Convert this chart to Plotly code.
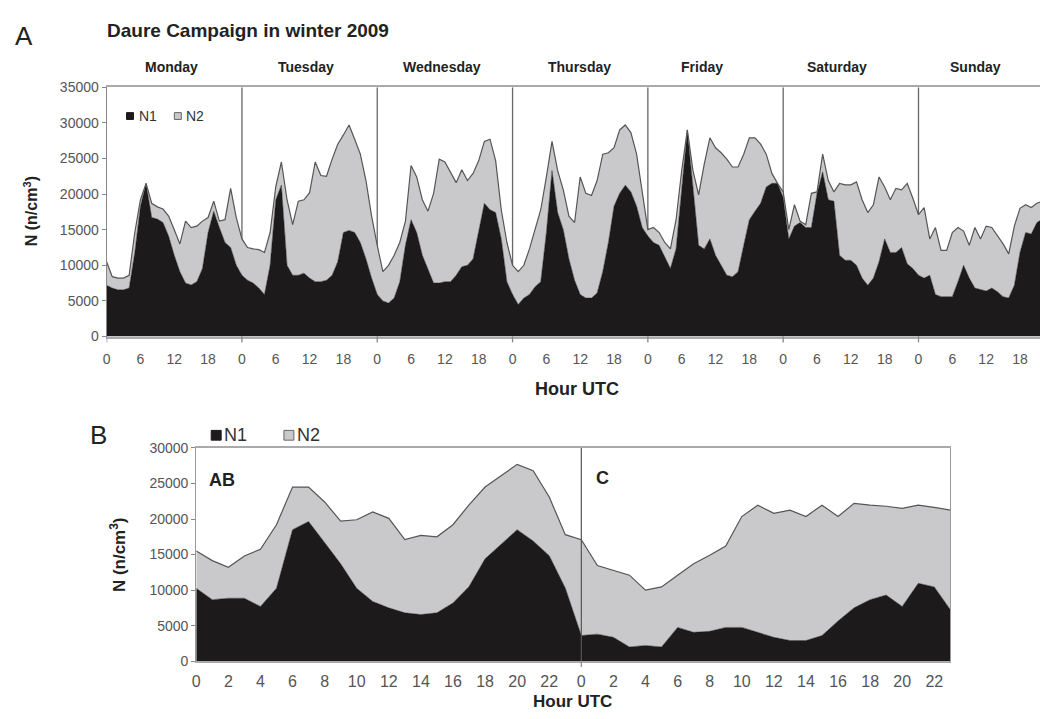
import plotly.graph_objects as go

W, H = 1040, 719


def px(x):
    return x / W


def py(y):
    return 1 - y / H


FONT = "Liberation Sans, Arial, sans-serif"
BLACK = "#1c1a1b"
GREY = "#c9c9cb"
EDGE = "#555555"

# ---- Panel A: hourly number concentrations over one week ----
days = ["Monday", "Tuesday", "Wednesday", "Thursday", "Friday", "Saturday", "Sunday"]
week_hours = list(range(168))
week_total = [
    10500, 8400, 8200, 8200, 8600, 14600, 19200, 21500, 18700, 18200, 17900, 16900,
    15000, 13000, 16200, 15300, 15500, 16200, 16700, 19000, 16200, 16400, 20800, 16700,
    13700, 12500, 12300, 12200, 11800, 14600, 21000, 24500, 19200, 15700, 19000, 19200,
    20200, 24500, 22600, 22500, 24900, 27000, 28300, 29700, 27700, 25600, 21900, 16900,
    12800, 9100, 10000, 11400, 13200, 16200, 24000, 22400, 19200, 17600, 20100, 24900,
    24500, 23100, 21600, 23400, 21900, 22900, 24700, 27400, 27700, 24700, 17800, 13200,
    10000, 9100, 10000, 12300, 15000, 17800, 22400, 27400, 23300, 20600, 16900, 16000,
    22400, 20100, 19800, 21900, 25600, 25800, 26500, 29000, 29700, 28600, 25600, 20100,
    15000, 15300, 14600, 13200, 12300, 16400, 23300, 29000, 23300, 19900, 24200, 27900,
    26500, 25800, 24900, 23800, 23800, 25600, 27900, 27900, 27000, 25600, 22900, 21500,
    20300, 15000, 18500, 16200, 15700, 20100, 20300, 25600, 21900, 20300, 21500, 21300,
    21300, 21700, 19200, 17400, 18500, 22400, 21000, 19200, 20800, 20600, 21500, 19400,
    17100, 18100, 13700, 15300, 12100, 12100, 14600, 15300, 14800, 12800, 15300, 13700,
    15500, 15300, 14100, 13000, 11600, 15500, 18000, 18500, 18100, 18700, 19000, 19000,
]
week_n1 = [
    7200, 6800, 6560, 6560, 6800, 11800, 18300, 21500, 16700, 16500, 16000, 14100,
    11400, 9100, 7500, 7250, 7700, 9550, 14600, 17600, 15300, 13200, 12500, 10000,
    8600, 7900, 7500, 6800, 5900, 10000, 19200, 21250, 10000, 8600, 8600, 8900,
    8200, 7700, 7700, 7900, 8600, 10500, 14600, 14900, 14600, 13200, 10900, 8200,
    5900, 5000, 4700, 5400, 7700, 12800, 16400, 14600, 11400, 9550, 7500, 7500,
    7700, 7700, 8600, 9800, 10000, 10900, 14600, 18700, 17800, 17400, 13700, 7700,
    5900, 4500, 5400, 5900, 7000, 7700, 14600, 23300, 17400, 15000, 10900, 7900,
    5900, 5400, 5400, 6100, 9100, 13200, 18300, 20100, 21250, 20300, 18300, 15300,
    14100, 13200, 12800, 11200, 9550, 12300, 21000, 29000, 21000, 12800, 12300, 13700,
    11400, 10000, 8600, 8400, 9100, 12800, 16400, 17600, 18700, 21000, 21500, 21500,
    19500, 13700, 15500, 16000, 15300, 15300, 20100, 23100, 19200, 19000, 11400, 10700,
    10700, 10000, 8200, 7200, 8200, 10500, 13700, 11800, 11800, 12500, 10200, 9550,
    8600, 8200, 8600, 5900, 5600, 5600, 5600, 7700, 10000, 8200, 6800, 6600,
    6400, 6800, 6300, 5600, 5400, 7200, 11800, 14600, 14400, 16000, 16500, 16500,
]
week_n2 = [t - a for t, a in zip(week_total, week_n1)]

# ---- Panel B: mean diurnal cycles for air masses AB and C ----
day_hours = list(range(24))
ab_total = [15500, 14150, 13200, 14800, 15750, 19200, 24500, 24500, 22400, 19700, 19900, 21000,
            20100, 17100, 17700, 17500, 19200, 22000, 24500, 26100, 27700, 26800, 23100, 17800]
ab_n1 = [10250, 8650, 8850, 8850, 7700, 10250, 18500, 19650, 16700, 13700, 10250, 8400,
         7500, 6800, 6550, 6800, 8200, 10500, 14400, 16450, 18500, 16900, 14850, 10300]
c_total = [17100, 13450, 12750, 12100, 10000, 10450, 12100, 13700, 14900, 16200, 20350, 21950,
           20800, 21250, 20350, 21950, 20350, 22200, 21950, 21800, 21500, 21950, 21650, 21250]
c_n1 = [3600, 3800, 3350, 2000, 2200, 2000, 4750, 4050, 4200, 4750, 4750, 4050,
        3350, 2900, 2900, 3600, 5650, 7500, 8650, 9300, 7700, 10950, 10450, 7250]

b_x = day_hours + [h + 24 for h in day_hours]
b_n1 = ab_n1 + c_n1
b_n2 = [t - a for t, a in zip(ab_total + c_total, b_n1)]

fig = go.Figure()
fig.add_trace(go.Scatter(x=week_hours, y=week_n1, stackgroup="a", mode="lines",
                         line=dict(width=0.5, color=BLACK), fillcolor=BLACK,
                         name="N1", showlegend=False, xaxis="x", yaxis="y"))
fig.add_trace(go.Scatter(x=week_hours, y=week_n2, stackgroup="a", mode="lines",
                         line=dict(width=1.2, color=EDGE), fillcolor=GREY,
                         name="N2", showlegend=False, xaxis="x", yaxis="y"))
fig.add_trace(go.Scatter(x=b_x, y=b_n1, stackgroup="b", mode="lines",
                         line=dict(width=0.5, color=BLACK), fillcolor=BLACK,
                         name="N1", showlegend=False, xaxis="x2", yaxis="y2"))
fig.add_trace(go.Scatter(x=b_x, y=b_n2, stackgroup="b", mode="lines",
                         line=dict(width=1.2, color=EDGE), fillcolor=GREY,
                         name="N2", showlegend=False, xaxis="x2", yaxis="y2"))

a_ticks = list(range(0, 166, 6))
b_ticks = list(range(0, 47, 2))
axis_common = dict(showgrid=False, zeroline=False, fixedrange=True)

fig.update_layout(
    width=W, height=H, margin=dict(l=0, r=0, t=0, b=0),
    paper_bgcolor="white", plot_bgcolor="white",
    font=dict(family=FONT, color="#222"),
    xaxis=dict(domain=[px(103), 1.0], range=[0, 165.55], anchor="y",
               tickvals=a_ticks, ticktext=[str(h % 24) for h in a_ticks], ticks="",
               ticklabelstandoff=9,
               tickfont=dict(size=14, color="#555"), showline=True, mirror=True,
               linecolor="#aaaaaa", linewidth=2, **axis_common),
    yaxis=dict(domain=[py(336), py(81)], range=[0, 35000], anchor="x",
               tickvals=list(range(0, 35001, 5000)),
               ticktext=[str(v) for v in range(0, 35001, 5000)],
               ticks="outside", ticklen=4, tickcolor="#888", showline=True,
               linecolor="#888", linewidth=1, tickfont=dict(size=14, color="#555"),
               **axis_common),
    xaxis2=dict(domain=[px(193), px(950)], range=[0, 47], anchor="y2",
                tickvals=b_ticks, ticktext=[str(h % 24) for h in b_ticks], ticks="",
                ticklabelstandoff=5,
                tickfont=dict(size=16, color="#555"), showline=True, mirror=True,
                linecolor="#aaaaaa", linewidth=1.5, **axis_common),
    yaxis2=dict(domain=[py(668), py(450)], range=[0, 30000], anchor="x2",
                tickvals=list(range(0, 30001, 5000)),
                ticktext=[str(v) for v in range(0, 30001, 5000)],
                ticks="outside", ticklen=4, tickcolor="#888", showline=True, mirror=True,
                linecolor="#999", linewidth=1.2, tickfont=dict(size=14, color="#555"),
                **axis_common),
)

shapes = []
# day separators (behind the areas) and day-boundary tick marks
for d in range(1, 7):
    shapes.append(dict(type="line", xref="x", yref="y", x0=24 * d, x1=24 * d, y0=0, y1=35000,
                       line=dict(color="#666", width=1.3), layer="below"))
for d in range(0, 7):
    shapes.append(dict(type="line", xref="x", yref="paper", x0=24 * d, x1=24 * d,
                       y0=py(336), y1=py(342), line=dict(color="#888", width=1.3)))
# AB | C separator
shapes.append(dict(type="line", xref="x2", yref="y2", x0=24, x1=24, y0=0, y1=30000,
                   line=dict(color="#555", width=1.2), layer="above"))
shapes.append(dict(type="line", xref="x2", yref="paper", x0=24, x1=24,
                   y0=py(668), y1=py(674), line=dict(color="#888", width=1.2)))


# legend swatches
def swatch(x0, y0, size, fill, edge):
    return dict(type="rect", xref="paper", yref="paper", x0=px(x0), x1=px(x0 + size),
                y0=py(y0 + size), y1=py(y0), fillcolor=fill, line=dict(color=edge, width=1))


shapes += [swatch(123, 107, 7, BLACK, BLACK), swatch(171, 107, 7, GREY, "#666"),
           swatch(208, 432, 10, BLACK, BLACK), swatch(281, 432, 10, GREY, "#666")]
fig.update_layout(shapes=shapes)

ann = []


def text(x, y, s, size, bold=False, xanchor="left", color="#222", angle=0):
    ann.append(dict(xref="paper", yref="paper", x=px(x), y=py(y), text=s, showarrow=False,
                    xanchor=xanchor, yanchor="middle", textangle=angle,
                    font=dict(family=FONT, size=size, color=color,
                              weight="bold" if bold else "normal")))


text(9, 29, "A", 26)
text(101, 23, "Daure Campaign in winter 2009", 19, bold=True)
day_centers = [168, 303, 440, 578, 701, 836, 975]
for name, cx in zip(days, day_centers):
    text(cx, 60, name, 14, bold=True, xanchor="center")
text(134, 110, "N1", 14, color="#333")
text(181, 110, "N2", 14, color="#333")
text(575, 390, "Hour UTC", 18, bold=True, xanchor="center")
text(27, 208, "N (n/cm<sup>3</sup>)", 16, bold=True, xanchor="center", angle=-90)

text(84, 437, "B", 26)
text(219, 437, "N1", 18, color="#333")
text(292, 437, "N2", 18, color="#333")
text(204, 483, "AB", 18, bold=True)
text(592, 481, "C", 18, bold=True)
text(571, 709, "Hour UTC", 17, bold=True, xanchor="center", )
text(114, 559, "N (n/cm<sup>3</sup>)", 17, bold=True, xanchor="center", angle=-90)

fig.update_layout(annotations=ann)
fig.write_html("out.html")
